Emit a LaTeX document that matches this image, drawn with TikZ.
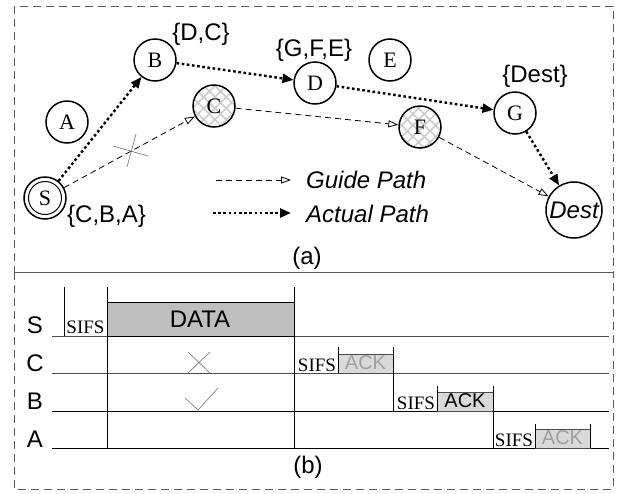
\documentclass[tikz,border=0pt]{standalone}
\usepackage{fontspec}
\setmainfont{Liberation Sans}
\newfontfamily\tms{Liberation Serif}
\usetikzlibrary{arrows.meta,patterns.meta}
\begin{document}
\begin{tikzpicture}[x=1pt,y=-1pt,
  every node/.style={inner sep=0pt},
  nd/.style={circle,draw,line width=1.5pt,minimum size=42pt,font=\tms\fontsize{22}{22}\selectfont},
  hatched/.style={preaction={fill=white},pattern={Hatch[angle=45,distance=8pt,line width=1.6pt]},pattern color=gray!40},
  actual/.style={line width=2.4pt,dash pattern=on 2.6pt off 2.6pt,-{Triangle[length=11pt,width=9pt]}},
  guide/.style={line width=0.8pt,dash pattern=on 6pt off 4pt,-{Triangle[open,length=10pt,width=7pt,line width=0.8pt]}},
  lbl/.style={font=\fontsize{24}{24}\selectfont},
  ilbl/.style={font=\itshape\fontsize{24}{24}\selectfont},
  sifs/.style={font=\tms\fontsize{19}{19}\selectfont,anchor=base},
  ack/.style={font=\fontsize{20}{20}\selectfont,anchor=base},
  frame/.style={draw=gray!70!black,line width=1pt,dash pattern=on 8pt off 5pt},
  tl/.style={line width=1pt},
  vl/.style={line width=0.8pt},
  mk/.style={gray,line width=0.7pt},
]
\useasboundingbox (0,0) rectangle (618,493);
% frames
\draw[frame] (14,6) rectangle (613,272);
\draw[frame] (14,272) rectangle (613,489);

% ---------- part (a) ----------
\node[nd] (S) at (45,198) {S};
\draw[line width=1pt] (S.center) circle (16.5pt);
\node[nd] (A) at (67,122) {A};
\node[nd] (B) at (155,60) {B};
\node[nd,hatched] (C) at (214,106) {C};
\node[nd] (D) at (315,83) {D};
\node[nd] (E) at (390,60) {E};
\node[nd,hatched] (F) at (420,127) {F};
\node[nd] (G) at (515,113) {G};
\node[nd,minimum size=56pt,font=\itshape\fontsize{24}{24}\selectfont] (Dest) at (574,210) {Dest};

\draw[actual] (S) -- (B);
\draw[actual] (B) -- (D);
\draw[actual] (D) -- (G);
\draw[actual] (G) -- (Dest);
\draw[guide] (S) -- (C);
\draw[guide] (C) -- (F);
\draw[guide] (F) -- (Dest);

% blocked link mark
\draw[mk] (113,146) -- (148,156) (127,167) -- (136,134);

\node[lbl,anchor=base] (lDC) at (201,40) {\{D,C\}};
\node[lbl,anchor=base] (lGFE) at (314,56) {\{G,F,E\}};
\node[lbl,anchor=base] (lDest) at (535,82) {\{Dest\}};
\node[lbl,anchor=base west] (lCBA) at (67,222) {\{C,B,A\}};

% legend
\coordinate (g1) at (216,180); \coordinate (g2) at (291,180);
\coordinate (a1) at (213,213); \coordinate (a2) at (291,213);
\draw[guide] (g1) -- (g2);
\draw[actual] (a1) -- (a2);
\node[ilbl,anchor=base west] (tg) at (306,188) {Guide Path};
\node[ilbl,anchor=base west] (ta) at (306,222) {Actual Path};

\node[lbl,anchor=base] (la) at (307,264) {(a)};

% ---------- part (b) ----------
\node[lbl,anchor=base] (rS) at (35,333) {S};
\node[lbl,anchor=base] (rC) at (35,371) {C};
\node[lbl,anchor=base] (rB) at (35,409) {B};
\node[lbl,anchor=base] (rA) at (35,447) {A};

\draw[tl,gray!60!black] (52,336) -- (609,336);
\draw[tl,gray!60!black] (52,373) -- (609,373);
\draw[tl] (52,411) -- (609,411);
\draw[tl] (52,448) -- (609,448);

\draw[fill=gray!50,line width=0.8pt] (107,302) rectangle (294,336);
\node[lbl,anchor=base] (data) at (200,327) {DATA};

\draw[fill=gray!30,draw=gray!60!black,line width=0.8pt] (338,354) rectangle (393,373);
\draw[fill=gray!30,draw=gray!60!black,line width=0.8pt] (437,392) rectangle (493,411);
\draw[fill=gray!30,draw=gray!60!black,line width=0.8pt] (535,429) rectangle (590,448);
\node[ack,text=gray!75] (ackC) at (365.5,369) {ACK};
\node[ack] (ackB) at (465,407) {ACK};
\node[ack,text=gray!75] (ackA) at (562.5,444) {ACK};

\draw[vl] (64,287) -- (64,336);
\draw[vl] (107,287) -- (107,448);
\draw[vl] (294,287) -- (294,448);
\draw[vl] (338,347) -- (338,373);
\draw[vl] (393,347) -- (393,411);
\draw[vl] (437,386) -- (437,411);
\draw[vl] (493,386) -- (493,448);
\draw[vl] (535,424) -- (535,448);
\draw[vl] (590,424) -- (590,448);

\node[sifs] (s1) at (85.5,333) {SIFS};
\node[sifs] (s2) at (317,371) {SIFS};
\node[sifs] (s3) at (416,409) {SIFS};
\node[sifs] (s4) at (514,446) {SIFS};

\draw[mk] (188,352) -- (210,373) (188,373) -- (210,352);
\draw[mk] (185,398) -- (198,410) -- (218,388);

\node[lbl,anchor=base] (lb) at (308,473) {(b)};
\end{tikzpicture}
\end{document}
